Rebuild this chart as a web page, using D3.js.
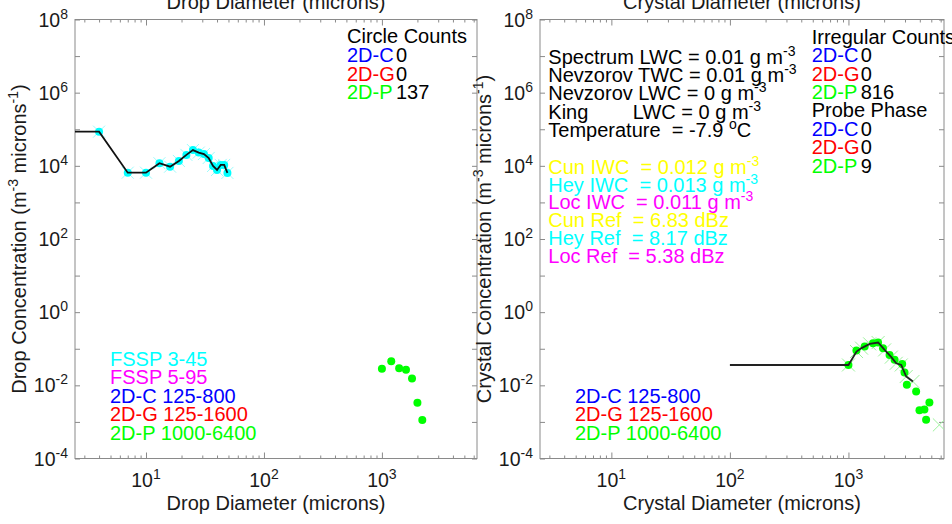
<!DOCTYPE html>
<html>
<head>
<meta charset="utf-8">
<script src="https://cdn.jsdelivr.net/npm/d3@7"></script>
<style>
  html, body { margin: 0; padding: 0; background: #fff; }
  svg { display: block; font-family: "Liberation Sans", Arial, Helvetica, sans-serif; }
  text { white-space: pre; }
</style>
</head>
<body>
<svg id="chart" width="952" height="524"></svg>
<script>
// ---- Drop panel: FSSP spectrum (diameter in microns, concentration in m^-3 microns^-1)
const fsspDiam = [1, 4, 7, 10, 13, 16, 19, 22, 25, 28, 31, 34, 37, 40, 43, 46, 49];
const fsspConc = [8.6e4, 8.6e4, 6.5e3, 6.5e3, 1.18e4, 9.5e3, 1.36e4, 1.99e4, 2.7e4, 2.3e4,
                  2.1e4, 1.64e4, 9.9e3, 7.7e3, 1.06e4, 1.06e4, 6.4e3];

// ---- Drop panel: 2D-P circle particles
const dropPDiam = [1000, 1200, 1400, 1600, 1800, 2000, 2200];
const dropPConc = [0.0282, 0.0458, 0.0295, 0.0265, 0.0153, 0.00333, 0.00112];

// ---- Crystal panel: composite spectrum line
const crystalLineDiam = [100, 1000, 1170, 1290, 1510, 1780, 2020, 2300, 2530, 2790, 3070, 3500];
const crystalLineConc = [0.036, 0.036, 0.084, 0.104, 0.136, 0.148, 0.093, 0.059, 0.040, 0.036, 0.0174, 0.0127];

// ---- Crystal panel: 2D-P irregular particles
const crystalDotDiam = [1000, 1168, 1371, 1612, 1778, 1957, 2222, 2451, 2842, 2972, 3110,
                        3725, 4820, 3975, 4375, 4520];
const crystalDotConc = [0.036, 0.0893, 0.115, 0.142, 0.148, 0.104, 0.068, 0.0497, 0.038, 0.0224, 0.0103,
                        0.0068, 0.0034, 0.0021, 0.0022, 0.00114];

// ---- Crystal panel: 2D-P all-particle crosses
const crystalCrossDiam = [1000, 1170, 1290, 1510, 1780, 2020, 2300, 2530, 2790, 3070, 3500, 5850];
const crystalCrossConc = [0.036, 0.084, 0.104, 0.136, 0.148, 0.093, 0.059, 0.040, 0.036, 0.0174, 0.0127, 0.00083];

// ---- Axis ticks
const xDomain = [2.5, 6400];
const yDomain = [1e-4, 1e8];
const xMajorTicks = [10, 100, 1000];
const xMinorTicks = [3, 4, 5, 6, 7, 8, 9, 20, 30, 40, 50, 60, 70, 80, 90,
                     200, 300, 400, 500, 600, 700, 800, 900, 2000, 3000, 4000, 5000, 6000];
const xTickExps = [1, 2, 3];
const yTicks = [1e-4, 1e-3, 1e-2, 1e-1, 1, 10, 100, 1e3, 1e4, 1e5, 1e6, 1e7, 1e8];
const yLabelExps = [-4, -2, 0, 2, 4, 6, 8];

// ---- Annotations
const circleCounts = [["2D-C", "#0000ff", "0"], ["2D-G", "#ff0000", "0"], ["2D-P", "#00ff00", "137"]];
const irregularCounts = [["2D-C", "#0000ff", "0"], ["2D-G", "#ff0000", "0"], ["2D-P", "#00ff00", "816"]];
const probePhase = [["2D-C", "#0000ff", "0"], ["2D-G", "#ff0000", "0"], ["2D-P", "#00ff00", "9"]];
const dropLegend = [["FSSP 3-45", "#00ffff"], ["FSSP 5-95", "#ff00ff"], ["2D-C 125-800", "#0000ff"],
                    ["2D-G 125-1600", "#ff0000"], ["2D-P 1000-6400", "#00ff00"]];
const crystalLegend = [["2D-C 125-800", "#0000ff"], ["2D-G 125-1600", "#ff0000"], ["2D-P 1000-6400", "#00ff00"]];
const bulkLines = [
  [["Spectrum LWC = 0.01 g m"], ["-3", 1]],
  [["Nevzorov TWC = 0.01 g m"], ["-3", 1]],
  [["Nevzorov LWC = 0 g m"], ["-3", 1]],
  [["King        LWC = 0 g m"], ["-3", 1]],
  [["Temperature  = -7.9 "], ["o", 1], ["C"]]
];
const iceLines = [
  ["#ffff00", [["Cun IWC  = 0.012 g m"], ["-3", 1]]],
  ["#00ffff", [["Hey IWC  = 0.013 g m"], ["-3", 1]]],
  ["#ff00ff", [["Loc IWC  = 0.011 g m"], ["-3", 1]]],
  ["#ffff00", [["Cun Ref  = 6.83 dBz"]]],
  ["#00ffff", [["Hey Ref  = 8.17 dBz"]]],
  ["#ff00ff", [["Loc Ref  = 5.38 dBz"]]]
];

const svg = d3.select("#chart");
const FS = 20, SUP = 14, RAISE = 8;
const plotTop = 19.5, plotBottom = 458.5;
const axisGray = "#8a8a8a";

// text with optional superscript parts
function richText(g, x, y, parts, opts = {}) {
  const t = g.append("text").attr("x", x).attr("y", y)
    .attr("font-size", opts.size || FS).attr("fill", opts.fill || "#000")
    .attr("text-anchor", opts.anchor || "start");
  if (opts.transform) t.attr("transform", opts.transform);
  let raised = false;
  parts.forEach(p => {
    const sup = !!p[1];
    const ts = t.append("tspan").text(p[0]);
    if (sup && !raised) { ts.attr("dy", -RAISE).attr("font-size", SUP); raised = true; }
    else if (sup) { ts.attr("font-size", SUP); }
    else if (!sup && raised) { ts.attr("dy", RAISE); raised = false; }
  });
  return t;
}

function crossPath(s) { return `M${-s},${-s}L${s},${s}M${-s},${s}L${s},${-s}`; }

function drawPanel(cfg) {
  const g = svg.append("g");
  const x = d3.scaleLog().domain(xDomain).range([cfg.left, cfg.right]);
  const y = d3.scaleLog().domain(yDomain).range([plotBottom, plotTop]);

  const clipId = "clip-" + cfg.id;
  svg.append("clipPath").attr("id", clipId).append("rect")
    .attr("x", cfg.left).attr("y", plotTop).attr("width", cfg.right - cfg.left).attr("height", plotBottom - plotTop);

  // ticks (inward), drawn with d3 axes
  const tickLayer = g.append("g").attr("color", axisGray);
  const addAxis = (axis, tx, ty) => tickLayer.append("g")
    .attr("transform", `translate(${tx},${ty})`).call(axis)
    .call(a => a.select(".domain").remove())
    .call(a => a.selectAll("text").remove());
  addAxis(d3.axisBottom(x).tickValues(xMajorTicks).tickSize(-6).tickFormat(""), 0, plotBottom);
  addAxis(d3.axisBottom(x).tickValues(xMinorTicks).tickSize(-3).tickFormat(""), 0, plotBottom);
  addAxis(d3.axisTop(x).tickValues(xMajorTicks).tickSize(-6).tickFormat(""), 0, plotTop);
  addAxis(d3.axisTop(x).tickValues(xMinorTicks).tickSize(-3).tickFormat(""), 0, plotTop);
  addAxis(d3.axisLeft(y).tickValues(yTicks).tickSize(-5).tickFormat(""), cfg.left, 0);
  addAxis(d3.axisRight(y).tickValues(yTicks).tickSize(-5).tickFormat(""), cfg.right, 0);

  // box
  g.append("rect").attr("x", cfg.left).attr("y", plotTop)
    .attr("width", cfg.right - cfg.left).attr("height", plotBottom - plotTop)
    .attr("fill", "none").attr("stroke", axisGray).attr("stroke-width", 1);

  // tick labels
  xTickExps.forEach(e => richText(g, x(Math.pow(10, e)), plotBottom + 28, [["10"], [String(e), 1]],
    { anchor: "middle", fill: "#1a1a1a", size: 19.5 }));
  yLabelExps.forEach(e => richText(g, cfg.left - 7, y(Math.pow(10, e)) + 7,
    [["10"], [String(e), 1]], { anchor: "end", fill: "#1a1a1a", size: 19.5 }));

  // axis titles
  const cx = (cfg.left + cfg.right) / 2;
  richText(g, cx, 510, [[cfg.xTitle]], { anchor: "middle", fill: "#1a1a1a" });
  richText(g, cx, 9, [[cfg.xTitle]], { anchor: "middle", fill: "#1a1a1a" });
  richText(g, 0, 0, [[cfg.yTitle + " (m"], ["-3", 1], [" microns"], ["-1", 1], [")"]],
    { anchor: "middle", fill: "#1a1a1a", transform: `translate(${cfg.left - 49},${(plotTop + plotBottom) / 2}) rotate(-90)` });

  const plot = g.append("g").attr("clip-path", `url(#${clipId})`);
  return { g, plot, x, y };
}

// ---------- Drop panel ----------
const leftPanel = drawPanel({ id: "drop", left: 75, right: 477,
  xTitle: "Drop Diameter (microns)", yTitle: "Drop Concentration" });
{
  const { g, plot, x, y } = leftPanel;
  const fssp = fsspDiam.map((d, i) => [d, fsspConc[i]]);
  plot.selectAll(".fx").data(fssp).join("path")
    .attr("d", crossPath(6)).attr("transform", d => `translate(${x(d[0])},${y(d[1])})`)
    .attr("stroke", "#9cfcfc").attr("stroke-width", 1).attr("fill", "none");
  plot.selectAll(".fd").data(fssp).join("circle")
    .attr("cx", d => x(d[0])).attr("cy", d => y(d[1])).attr("r", 4).attr("fill", "#00ffff");
  plot.append("path").datum(fssp)
    .attr("d", d3.line().x(d => x(d[0])).y(d => y(d[1])))
    .attr("fill", "none").attr("stroke", "#111").attr("stroke-width", 1.8);
  const pts = dropPDiam.map((d, i) => [d, dropPConc[i]]);
  plot.selectAll(".pd").data(pts).join("circle")
    .attr("cx", d => x(d[0])).attr("cy", d => y(d[1])).attr("r", 4).attr("fill", "#00ff00");

  richText(g, 347, 43, [["Circle Counts"]]);
  circleCounts.forEach((r, i) => {
    richText(g, 347, 62 + i * 18.5, [[r[0]]], { fill: r[1] });
    richText(g, 396, 62 + i * 18.5, [[r[2]]]);
  });
  dropLegend.forEach((r, i) => richText(g, 110, 366 + i * 18.4, [[r[0]]], { fill: r[1] }));
}

// ---------- Crystal panel ----------
const rightPanel = drawPanel({ id: "crystal", left: 540, right: 944,
  xTitle: "Crystal Diameter (microns)", yTitle: "Crystal Concentration" });
{
  const { g, plot, x, y } = rightPanel;
  const crosses = crystalCrossDiam.map((d, i) => [d, crystalCrossConc[i]]);
  plot.selectAll(".cx").data(crosses).join("path")
    .attr("d", crossPath(6.5)).attr("transform", d => `translate(${x(d[0])},${y(d[1])})`)
    .attr("stroke", "#9ef29e").attr("stroke-width", 1).attr("fill", "none");
  const dots = crystalDotDiam.map((d, i) => [d, crystalDotConc[i]]);
  plot.selectAll(".cd").data(dots).join("circle")
    .attr("cx", d => x(d[0])).attr("cy", d => y(d[1])).attr("r", 4).attr("fill", "#00ff00");
  const line = crystalLineDiam.map((d, i) => [d, crystalLineConc[i]]);
  plot.append("path").datum(line)
    .attr("d", d3.line().x(d => x(d[0])).y(d => y(d[1])))
    .attr("fill", "none").attr("stroke", "#222").attr("stroke-width", 1.8);

  bulkLines.forEach((parts, i) => richText(g, 548.3, 64 + i * 18.2, parts));
  iceLines.forEach((r, i) => richText(g, 548.3, 174 + i * 17.7, r[1], { fill: r[0] }));

  richText(g, 811.7, 43.5, [["Irregular Counts"]]);
  irregularCounts.forEach((r, i) => {
    richText(g, 811.7, 62 + i * 18.5, [[r[0]]], { fill: r[1] });
    richText(g, 860.7, 62 + i * 18.5, [[r[2]]]);
  });
  richText(g, 811.7, 117, [["Probe Phase"]]);
  probePhase.forEach((r, i) => {
    richText(g, 811.7, 135.5 + i * 18.5, [[r[0]]], { fill: r[1] });
    richText(g, 860.7, 135.5 + i * 18.5, [[r[2]]]);
  });
  crystalLegend.forEach((r, i) => richText(g, 575, 403 + i * 18.3, [[r[0]]], { fill: r[1] }));
}
</script>
</body>
</html>
